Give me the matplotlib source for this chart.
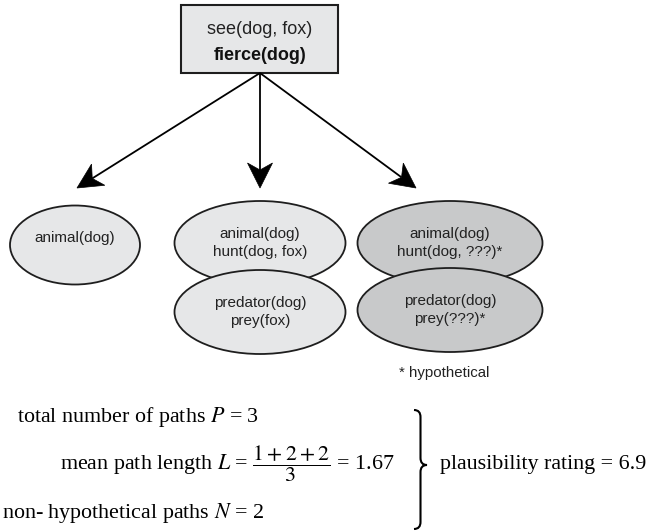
import matplotlib
matplotlib.use('Agg')
import matplotlib.pyplot as plt
import numpy as np
from matplotlib.patches import Ellipse, Rectangle, Polygon, PathPatch
from matplotlib.path import Path

plt.rcParams['mathtext.fontset'] = 'stix'

# diagram content
root_lines = ['see(dog, fox)', 'fierce(dog)']
left_node = ['animal(dog)']
mid_nodes = [['animal(dog)', 'hunt(dog, fox)'], ['predator(dog)', 'prey(fox)']]
right_nodes = [['animal(dog)', 'hunt(dog, ???)*'], ['predator(dog)', 'prey(???)*']]
footnote = '* hypothetical'
n_paths = 3
path_lengths = [1, 2, 2]
n_nonhyp = 2
rating = 6.9

light = '#e6e7e8'
dark = '#c8c9ca'
edge = '#1e1e1e'
sans = ['Liberation Sans', 'DejaVu Sans']
serif = ['Liberation Serif', 'DejaVu Serif']

fig = plt.figure(figsize=(6.52, 5.31), dpi=100)
ax = fig.add_axes([0, 0, 1, 1])
ax.set_xlim(0, 652)
ax.set_ylim(531, 0)
ax.axis('off')


def arrow(ax, s, t, L=25, W=12.5, notch=7):
        s = np.array(s, float)
        t = np.array(t, float)
        u = (t - s) / np.hypot(*(t - s))
        n = np.array([-u[1], u[0]])
        back = t - (L - notch) * u
        ax.plot([s[0], back[0]], [s[1], back[1]], color='k', lw=1.3, solid_capstyle='butt')
        pts = [t, t - L * u + W * n, back, t - L * u - W * n]
        ax.add_patch(Polygon(pts, closed=True, fc='k', ec='k', lw=0.5))


def node(ax, cx, cy, w, h, lines, fc, ty=None):
        ax.add_patch(Ellipse((cx, cy), w, h, fc=fc, ec=edge, lw=1.3))
        ax.text(cx, cy if ty is None else ty, '\n'.join(lines), ha='center', va='center',
                fontsize=11, family=sans, color='#222222', linespacing=1.35)


def brace(ax, x, ytop, ybot, ymid, w=13, r=7):
        xm = x + w / 2.0
        verts = [(x, ytop), (xm, ytop), (xm, ytop + r),
                 (xm, ymid - r), (xm, ymid), (x + w, ymid),
                 (xm, ymid), (xm, ymid + r),
                 (xm, ybot - r), (xm, ybot), (x, ybot)]
        codes = [Path.MOVETO, Path.CURVE3, Path.CURVE3,
                 Path.LINETO, Path.CURVE3, Path.CURVE3,
                 Path.CURVE3, Path.CURVE3,
                 Path.LINETO, Path.CURVE3, Path.CURVE3]
        ax.add_patch(PathPatch(Path(verts, codes), fc='none', ec='k', lw=1.5))


# root box
ax.add_patch(Rectangle((181, 5), 157, 68, fc=light, ec=edge, lw=1.5))
ax.text(260, 29, root_lines[0], ha='center', va='center', fontsize=13, family=sans, color='#222222')
ax.text(260, 55, root_lines[1], ha='center', va='center', fontsize=13, family=sans,
        weight='bold', color='#111111')

# arrows
origin = (260, 73)
arrow(ax, origin, (77, 188))
arrow(ax, origin, (260, 188))
arrow(ax, origin, (416, 188))

# nodes (lower row drawn over upper row)
node(ax, 75, 245, 130, 79, left_node, light, ty=238)
node(ax, 260, 243, 171, 84, mid_nodes[0], light)
node(ax, 450, 243, 185, 84, right_nodes[0], dark)
node(ax, 260, 312, 171, 84, mid_nodes[1], light)
node(ax, 450, 310, 185, 84, right_nodes[1], dark)
ax.text(399, 373, footnote, ha='left', va='center', fontsize=10.8, family=sans, color='#222222')

# formulas
fs = 15.8
ax.text(17, 422, r'total number of paths $P$ = %d' % n_paths, ha='left', va='baseline',
        fontsize=fs, family=serif)
frac = r'$\dfrac{%s}{%d}$' % ('+'.join(str(v) for v in path_lengths), len(path_lengths))
mean_len = sum(path_lengths) / len(path_lengths)
ax.text(60, 469, r'mean path length $L$ = %s = %.2f' % (frac, mean_len), ha='left', va='baseline',
        fontsize=fs, family=serif)
ax.text(2, 518, r'non- hypothetical paths $N$ = %d' % n_nonhyp, ha='left', va='baseline',
        fontsize=fs, family=serif)
brace(ax, 414, 410, 529, 465)
ax.text(440, 469, r'plausibility rating = %.1f' % rating, ha='left', va='baseline',
        fontsize=fs, family=serif)

fig.savefig('out.png', dpi=100)
